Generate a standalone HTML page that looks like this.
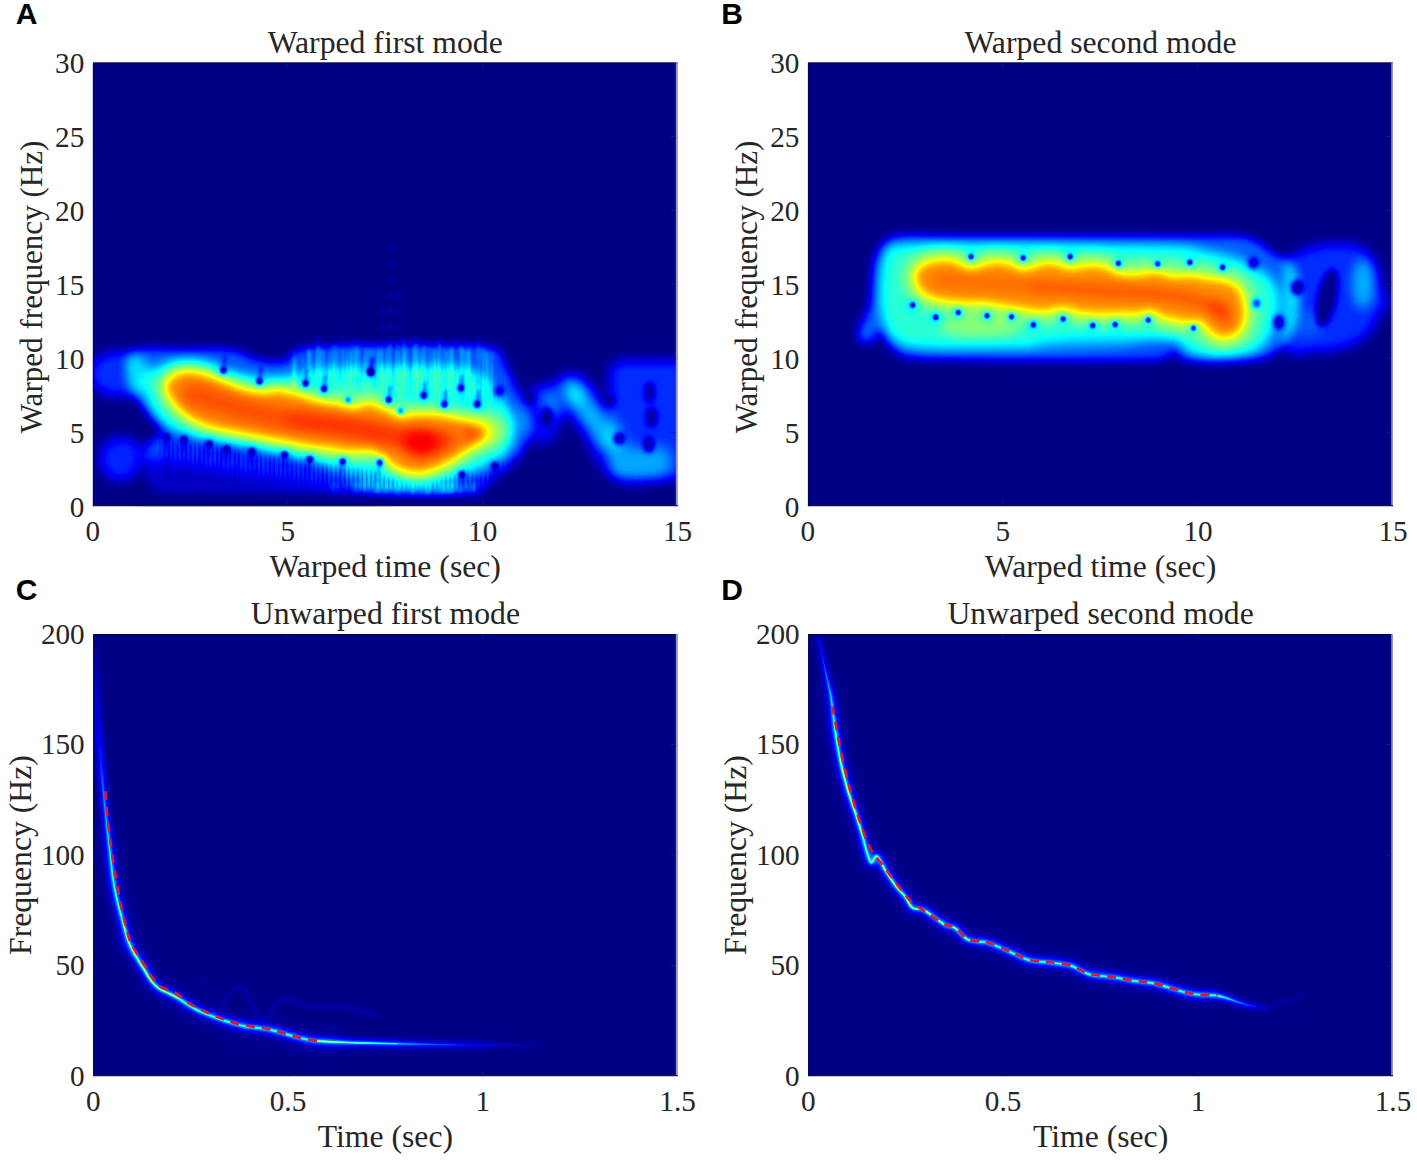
<!DOCTYPE html>
<html lang="en"><head><meta charset="utf-8"><title>Warped and unwarped modes</title>
<style>
html,body{margin:0;padding:0;background:#fff}
body{width:1417px;height:1161px;overflow:hidden;position:relative}
svg#fig{position:absolute;left:0;top:0;display:block}
svg#fig text{font-family:"Liberation Serif","Times New Roman",Times,serif;fill:#262626}
svg#fig text.ltr{font-family:"Liberation Sans",Arial,Helvetica,sans-serif;font-weight:bold;fill:#000}
</style></head>
<body>
<svg id="fig" width="1417" height="1161" viewBox="0 0 1417 1161">
<defs>
<filter id="jet" x="0" y="0" width="100%" height="100%" filterUnits="objectBoundingBox" color-interpolation-filters="sRGB">
<feComponentTransfer>
<feFuncR type="table" tableValues="0 0 0 0 0.5 1 1 1 0.5"/>
<feFuncG type="table" tableValues="0 0 0.5 1 1 1 0.5 0 0"/>
<feFuncB type="table" tableValues="0.52 1 1 1 0.5 0 0 0 0"/>
</feComponentTransfer>
</filter>
<filter id="b0_5" filterUnits="userSpaceOnUse" x="-30" y="-30" width="650" height="510" color-interpolation-filters="sRGB"><feGaussianBlur stdDeviation="0.5"/></filter>
<filter id="b0_6" filterUnits="userSpaceOnUse" x="-30" y="-30" width="650" height="510" color-interpolation-filters="sRGB"><feGaussianBlur stdDeviation="0.6"/></filter>
<filter id="b0_8" filterUnits="userSpaceOnUse" x="-30" y="-30" width="650" height="510" color-interpolation-filters="sRGB"><feGaussianBlur stdDeviation="0.8"/></filter>
<filter id="b1_3" filterUnits="userSpaceOnUse" x="-30" y="-30" width="650" height="510" color-interpolation-filters="sRGB"><feGaussianBlur stdDeviation="1.3"/></filter>
<filter id="b1_5" filterUnits="userSpaceOnUse" x="-30" y="-30" width="650" height="510" color-interpolation-filters="sRGB"><feGaussianBlur stdDeviation="1.5"/></filter>
<filter id="b2" filterUnits="userSpaceOnUse" x="-30" y="-30" width="650" height="510" color-interpolation-filters="sRGB"><feGaussianBlur stdDeviation="2"/></filter>
<filter id="b2_5" filterUnits="userSpaceOnUse" x="-30" y="-30" width="650" height="510" color-interpolation-filters="sRGB"><feGaussianBlur stdDeviation="2.5"/></filter>
<filter id="b2_8" filterUnits="userSpaceOnUse" x="-30" y="-30" width="650" height="510" color-interpolation-filters="sRGB"><feGaussianBlur stdDeviation="2.8"/></filter>
<filter id="b3" filterUnits="userSpaceOnUse" x="-30" y="-30" width="650" height="510" color-interpolation-filters="sRGB"><feGaussianBlur stdDeviation="3"/></filter>
<filter id="b4" filterUnits="userSpaceOnUse" x="-30" y="-30" width="650" height="510" color-interpolation-filters="sRGB"><feGaussianBlur stdDeviation="4"/></filter>
<filter id="b5" filterUnits="userSpaceOnUse" x="-30" y="-30" width="650" height="510" color-interpolation-filters="sRGB"><feGaussianBlur stdDeviation="5"/></filter>
<filter id="b6" filterUnits="userSpaceOnUse" x="-30" y="-30" width="650" height="510" color-interpolation-filters="sRGB"><feGaussianBlur stdDeviation="6"/></filter>
<filter id="b6_5" filterUnits="userSpaceOnUse" x="-30" y="-30" width="650" height="510" color-interpolation-filters="sRGB"><feGaussianBlur stdDeviation="6.5"/></filter>
<filter id="b7" filterUnits="userSpaceOnUse" x="-30" y="-30" width="650" height="510" color-interpolation-filters="sRGB"><feGaussianBlur stdDeviation="7"/></filter>
<filter id="b8" filterUnits="userSpaceOnUse" x="-30" y="-30" width="650" height="510" color-interpolation-filters="sRGB"><feGaussianBlur stdDeviation="8"/></filter>
</defs>

<svg x="92.8" y="62.6" width="584.8" height="443.6" viewBox="-0.2 0.6 584.8 443.6" overflow="hidden">
<g filter="url(#jet)"><rect width="584.5" height="444" fill="#000"/>
<defs><pattern id="vsA" width="4.4" height="40" patternUnits="userSpaceOnUse"><rect x="0" width="1.7" height="40" fill="#000"/></pattern><pattern id="vsA2" width="17.3" height="40" patternUnits="userSpaceOnUse"><rect x="3" width="5" height="40" fill="#000"/></pattern></defs>
<ellipse cx="27" cy="312" rx="31" ry="23" fill="#fff" fill-opacity="0.17" filter="url(#b6)"/>
<ellipse cx="29" cy="397" rx="23" ry="22" fill="#fff" fill-opacity="0.16" filter="url(#b6)"/>
<path d="M38 290C47 283.7 73 287.3 90 287C107 286.7 127.8 286.3 140 288C152.2 289.7 154.3 295.2 163 297C171.7 298.8 183.8 300.8 192 299C200.2 297.2 194 288.7 212 286C230 283.3 269.3 283.2 300 283C330.7 282.8 377.3 281.8 396 285C414.7 288.2 407.3 295.2 412 302C416.7 308.8 420.2 318 424 326C427.8 334 432.7 343.3 435 350C437.3 356.7 438.2 360.7 438 366C437.8 371.3 436.2 376.8 434 382C431.8 387.2 428.8 392.3 425 397C421.2 401.7 416.2 405.8 411 410C405.8 414.2 398.8 418.5 394 422C389.2 425.5 397.7 429.3 382 431C366.3 432.7 330.3 431.8 300 432C269.7 432.2 233.3 432.2 200 432C166.7 431.8 123 431.7 100 431C77 430.3 70 433.2 62 428C54 422.8 53 408 52 400C51 392 53 384.8 56 380C59 375.2 69 374.3 70 371C71 367.7 65.3 364.3 62 360C58.7 355.7 54.3 350.8 50 345C45.7 339.2 38 334.2 36 325C34 315.8 29 296.3 38 290Z" fill="#fff" fill-opacity="0.21" filter="url(#b5)"/>
<path d="M201.8 327v-32.3M211 327v-30.5M215.9 315v-27.6M225.1 315v-33.7M230 315v-27.2M236.6 315v-27.3M240.1 315v-33M249.3 315v-42.8M254.2 315v-33.6M257.7 315v-27.1M262.5 315v-40.2M266 315v-37.3M272.6 315v-30.3M277.5 315v-31.6M284.1 315v-31.2M287.6 315v-30.6M294.2 315v-29.8M297.7 315v-35.5M304.3 315v-36.8M310.9 315v-27M314.4 315v-29.7M321 315v-29.5M324.6 315v-39.2M328.1 315v-27.8M331.6 315v-30.8M340.8 315v-30M345.7 315v-37.3M352.3 315v-28.9M358.9 315v-28.9M368.1 315v-36.8M371.6 315v-27.3M375.2 315v-27M384.4 315v-37.8M389.2 320.5v-34.9M394.1 326.8v-30.4M398.9 333.1v-43.5M403.8 339.4v-30M238.5 421v9.4M243.3 421v6M249.9 421v14M253.4 421v7.7M262.7 421v14M266.2 421v6.3M271 421v7.7M277.6 421v6.1M284.2 421v12.6M293.5 421v6.6M297 421v7.7M301.8 421v6.1M308.4 421v9M317.7 421v7M326.9 421v12.7M331.7 421v12.9M336.6 421v11M343.2 421v13.3M348 421v11.8M352.9 421v11.9M357.7 421v11.5M366.9 421v13.1M370.5 421v9.4M374 421v6.9M380.6 421v7.9" stroke="#fff" stroke-opacity="0.06" stroke-width="2.2" fill="none" filter="url(#b1_5)"/>
<path d="M201 327v-38.5M216.1 315v-28.5M224.1 315v-41.7M229.8 315v-27.3M244.9 315v-32.3M250.7 315v-28.3M258.6 315v-36.5M264.4 315v-28.2M279.5 315v-28.1M285.3 315v-27.5M296.1 315v-31.8M304 315v-27.1M311.9 315v-40.5M322.7 315v-34.3M330.6 315v-32.9M336.4 315v-30.8M347.2 315v-35.4M352.9 315v-27M358.7 315v-31M369.5 315v-28.7M375.3 315v-27.1M386.1 316.4v-36.2M394 326.7v-37.7M239.4 421v11.5M245.2 421v13M260.3 421v13.6M266 421v12.9M271.8 421v11M286.9 421v9M292.7 421v10.9M298.4 421v6.7M304.2 421v13.9M319.3 421v11.8M334.4 421v13.5M349.6 421v9.5M355.3 421v10.1M361.1 421v8.5M366.8 421v9.8M374.8 421v13.7M380.5 421v10" stroke="#fff" stroke-opacity="0.055" stroke-width="3.6" fill="none" filter="url(#b1_5)"/>
<path d="M201 327v-27M216 315v-27.3M227 315v-31.6M242 315v-34.4M263 315v-31.2M274 315v-28.8M289 315v-27.7M310 315v-38M321 315v-40.2M342 315v-27.8M357 315v-27.7M368 315v-31.2M376 315v-35.6M391 322.8v-38.5M399 333.2v-30.5M241.7 421v12.6M262.7 421v11M283.7 421v11.4M304.7 421v8.6M312.7 421v8.2M320.7 421v11.4M335.7 421v10.6M350.7 421v11.2M358.7 421v11.1M379.7 421v9.6" stroke="#fff" stroke-opacity="0.045" stroke-width="5.0" fill="none" filter="url(#b1_5)"/>
<path d="M297 286V176M305.5 286V226M288.5 286V236" stroke="#fff" stroke-opacity="0.035" stroke-width="4" stroke-dasharray="9 7" fill="none" filter="url(#b1_5)"/>
<polygon points="46,396 120,408 200,420 262,430 300,440 300,452 46,452" fill="#000" fill-opacity="0.6" filter="url(#b7)"/>
<path d="M49.5 324C50.5 318.5 54.2 311.2 60 307C65.8 302.8 76.8 300 84.5 298.6C92.2 297.2 99.4 297.7 106 298.6C112.6 299.5 117.3 301.8 124 304C130.7 306.2 136.2 310.2 146 312C155.8 313.8 174 315 183 315C192 315 196 312.7 200 312C204 311.3 204 311.8 207 311C210 310.2 212.8 308 218 307C223.2 306 228.2 305.5 238 305C247.8 304.5 263.3 304.3 277 304C290.7 303.7 309 303.2 320 303C331 302.8 335.7 302.3 343 302.5C350.3 302.7 358 303.1 364 304C370 304.9 375 306.5 379 308C383 309.5 384.5 310.3 388 313C391.5 315.7 395.7 319 400 324C404.3 329 410.5 337.7 414 343C417.5 348.3 419.7 352.2 421 356C422.3 359.8 422.2 362.7 422 366C421.8 369.3 421.3 372 420 376C418.7 380 416.3 386.3 414 390C411.7 393.7 408.7 395.8 406 398C403.3 400.2 401.2 401.3 398 403C394.8 404.7 390.8 406.5 387 408C383.2 409.5 378.8 409.8 375 412C371.2 414.2 366.5 418.3 364 421C361.5 423.7 374.5 427 360 428C345.5 429 293.7 428.8 277 427C260.3 425.2 266.5 420.2 260 417C253.5 413.8 245.3 411 238 408C230.7 405 223.3 401.5 216 399C208.7 396.5 201.3 394.8 194 393C186.7 391.2 179.3 389.7 172 388C164.7 386.3 157.3 384.3 150 383C142.7 381.7 134.5 381 128 380C121.5 379 116.8 378.2 111 377C105.2 375.8 98.8 374.8 93 373C87.2 371.2 81 369 76 366C71 363 66.7 359.3 63 355C59.3 350.7 56.2 345.2 54 340C51.8 334.8 48.5 329.5 49.5 324Z" fill="#fff" fill-opacity="0.24" filter="url(#b6)"/>
<ellipse cx="312" cy="324" rx="80" ry="13" fill="#fff" fill-opacity="0.07" filter="url(#b8)"/>
<defs><mask id="mA" maskUnits="userSpaceOnUse" x="0" y="0" width="584.5" height="444"><rect width="584.5" height="444" fill="#000"/><path d="M66 376L110 382L200 398L300 412L385 414L428 392L425 426L70 426ZM210 292L398 292L422 330L400 346L300 334L210 312Z" fill="#fff" filter="url(#b5)"/><path d="M73.6 325C73.9 321.5 77.1 317.4 80 315C82.9 312.6 86.6 311.2 91 310.7C95.4 310.2 100.2 310.4 106.4 311.8C112.6 313.2 121 316.7 128.3 319.4C135.6 322.1 142.7 326 150 328C157.3 330 166.2 331.2 172 331.4C177.8 331.6 179.5 328.9 185 329.3C190.5 329.7 198.1 331.8 205 333.6C211.9 335.4 219.4 338.6 226.7 340.2C234 341.8 243.1 342.4 248.6 343.5C254.1 344.6 255.1 347 259.5 346.8C263.9 346.6 270.9 342.7 275 342.4C279.1 342.1 280.8 343.9 284 345C287.2 346.1 290.6 347.2 294.5 349C298.4 350.8 303.2 354.8 307.6 355.5C312 356.2 315 353.7 320.8 353.3C326.6 352.9 335.3 352.6 342.6 353.3C349.9 354 357.9 355.9 364.5 357.7C371.1 359.5 377.6 362.1 382 364.3C386.4 366.5 391.5 367.5 390.8 370.8C390.1 374.1 382.7 379.6 377.6 384C372.5 388.4 365.8 393.4 360 397C354.2 400.6 348.1 403.6 342.6 405.8C337.2 408 332.4 409.8 327.3 410.2C322.2 410.6 316.7 409.5 312 408C307.3 406.5 302.7 403.8 299 401.4C295.3 399 293.7 396 290 393.8C286.3 391.6 282.1 388.8 277 388C271.9 387.2 266.1 389.3 259.5 389C252.9 388.7 244.9 387 237.6 386C230.3 385 223.1 384.2 215.8 383C208.5 381.8 201.2 380.3 193.9 379C186.6 377.7 179.3 376.4 172 375C164.7 373.6 157.3 372.2 150 370.8C142.7 369.4 135.6 368.2 128.3 366.4C121 364.6 113 362.8 106.4 359.9C99.8 357 93.7 352.9 88.9 348.9C84.2 344.9 80.5 339.8 77.9 335.8C75.4 331.8 73.2 328.5 73.6 325Z" fill="#000" stroke="#000" stroke-width="22" stroke-linejoin="round" filter="url(#b4)"/></mask></defs>
<g mask="url(#mA)"><rect x="30" y="360" width="430" height="85" fill="#000" opacity="0.16"/><rect x="30" y="270" width="430" height="85" fill="url(#vsA)" opacity="0.05" filter="url(#b0_6)"/><rect x="30" y="355" width="430" height="90" fill="url(#vsA)" opacity="0.24" filter="url(#b0_6)"/><rect x="30" y="270" width="430" height="175" fill="url(#vsA2)" opacity="0.13" filter="url(#b2)"/></g>
<path d="M73.6 325C73.9 321.5 77.1 317.4 80 315C82.9 312.6 86.6 311.2 91 310.7C95.4 310.2 100.2 310.4 106.4 311.8C112.6 313.2 121 316.7 128.3 319.4C135.6 322.1 142.7 326 150 328C157.3 330 166.2 331.2 172 331.4C177.8 331.6 179.5 328.9 185 329.3C190.5 329.7 198.1 331.8 205 333.6C211.9 335.4 219.4 338.6 226.7 340.2C234 341.8 243.1 342.4 248.6 343.5C254.1 344.6 255.1 347 259.5 346.8C263.9 346.6 270.9 342.7 275 342.4C279.1 342.1 280.8 343.9 284 345C287.2 346.1 290.6 347.2 294.5 349C298.4 350.8 303.2 354.8 307.6 355.5C312 356.2 315 353.7 320.8 353.3C326.6 352.9 335.3 352.6 342.6 353.3C349.9 354 357.9 355.9 364.5 357.7C371.1 359.5 377.6 362.1 382 364.3C386.4 366.5 391.5 367.5 390.8 370.8C390.1 374.1 382.7 379.6 377.6 384C372.5 388.4 365.8 393.4 360 397C354.2 400.6 348.1 403.6 342.6 405.8C337.2 408 332.4 409.8 327.3 410.2C322.2 410.6 316.7 409.5 312 408C307.3 406.5 302.7 403.8 299 401.4C295.3 399 293.7 396 290 393.8C286.3 391.6 282.1 388.8 277 388C271.9 387.2 266.1 389.3 259.5 389C252.9 388.7 244.9 387 237.6 386C230.3 385 223.1 384.2 215.8 383C208.5 381.8 201.2 380.3 193.9 379C186.6 377.7 179.3 376.4 172 375C164.7 373.6 157.3 372.2 150 370.8C142.7 369.4 135.6 368.2 128.3 366.4C121 364.6 113 362.8 106.4 359.9C99.8 357 93.7 352.9 88.9 348.9C84.2 344.9 80.5 339.8 77.9 335.8C75.4 331.8 73.2 328.5 73.6 325Z" fill="#fff" stroke="#fff" stroke-width="18" stroke-linejoin="round" opacity="0.27" filter="url(#b6)"/>
<ellipse cx="392" cy="369" rx="24" ry="18" fill="#fff" fill-opacity="0.22" filter="url(#b8)"/>
<ellipse cx="130.4" cy="308.5" rx="5.5" ry="5.5" fill="#000" fill-opacity="0.2" filter="url(#b3)"/>
<ellipse cx="130.4" cy="308.5" rx="2.8" ry="3.1" fill="#000" fill-opacity="0.95" filter="url(#b1_5)"/>
<path d="M130.4 308.5L131.9 295.5" fill="none" stroke="#000" stroke-opacity="0.35" stroke-width="3.2" stroke-linecap="round" stroke-linejoin="round" filter="url(#b1_5)"/>
<ellipse cx="166.5" cy="319.4" rx="5.5" ry="5.5" fill="#000" fill-opacity="0.2" filter="url(#b3)"/>
<ellipse cx="166.5" cy="319.4" rx="2.8" ry="3.1" fill="#000" fill-opacity="0.95" filter="url(#b1_5)"/>
<path d="M166.5 319.4L168 306.4" fill="none" stroke="#000" stroke-opacity="0.35" stroke-width="3.2" stroke-linecap="round" stroke-linejoin="round" filter="url(#b1_5)"/>
<ellipse cx="212.5" cy="321.6" rx="5.5" ry="5.5" fill="#000" fill-opacity="0.2" filter="url(#b3)"/>
<ellipse cx="212.5" cy="321.6" rx="2.8" ry="3.1" fill="#000" fill-opacity="0.95" filter="url(#b1_5)"/>
<path d="M212.5 321.6L214 308.6" fill="none" stroke="#000" stroke-opacity="0.35" stroke-width="3.2" stroke-linecap="round" stroke-linejoin="round" filter="url(#b1_5)"/>
<ellipse cx="231.1" cy="327.1" rx="5.5" ry="5.5" fill="#000" fill-opacity="0.2" filter="url(#b3)"/>
<ellipse cx="231.1" cy="327.1" rx="2.8" ry="3.1" fill="#000" fill-opacity="0.95" filter="url(#b1_5)"/>
<path d="M231.1 327.1L232.6 314.1" fill="none" stroke="#000" stroke-opacity="0.35" stroke-width="3.2" stroke-linecap="round" stroke-linejoin="round" filter="url(#b1_5)"/>
<ellipse cx="278.1" cy="310.7" rx="5.5" ry="5.5" fill="#000" fill-opacity="0.2" filter="url(#b3)"/>
<ellipse cx="278.1" cy="310.7" rx="2.8" ry="3.1" fill="#000" fill-opacity="0.95" filter="url(#b1_5)"/>
<path d="M278.1 310.7L279.6 297.7" fill="none" stroke="#000" stroke-opacity="0.35" stroke-width="3.2" stroke-linecap="round" stroke-linejoin="round" filter="url(#b1_5)"/>
<ellipse cx="295.6" cy="338" rx="5.5" ry="5.5" fill="#000" fill-opacity="0.2" filter="url(#b3)"/>
<ellipse cx="295.6" cy="338" rx="2.8" ry="3.1" fill="#000" fill-opacity="0.95" filter="url(#b1_5)"/>
<path d="M295.6 338L297.1 325" fill="none" stroke="#000" stroke-opacity="0.35" stroke-width="3.2" stroke-linecap="round" stroke-linejoin="round" filter="url(#b1_5)"/>
<ellipse cx="277" cy="309.6" rx="5.5" ry="5.5" fill="#000" fill-opacity="0.2" filter="url(#b3)"/>
<ellipse cx="277" cy="309.6" rx="2.8" ry="3.1" fill="#000" fill-opacity="0.95" filter="url(#b1_5)"/>
<path d="M277 309.6L278.5 296.6" fill="none" stroke="#000" stroke-opacity="0.35" stroke-width="3.2" stroke-linecap="round" stroke-linejoin="round" filter="url(#b1_5)"/>
<ellipse cx="330.6" cy="333.6" rx="5.5" ry="5.5" fill="#000" fill-opacity="0.2" filter="url(#b3)"/>
<ellipse cx="330.6" cy="333.6" rx="2.8" ry="3.1" fill="#000" fill-opacity="0.95" filter="url(#b1_5)"/>
<path d="M330.6 333.6L332.1 320.6" fill="none" stroke="#000" stroke-opacity="0.35" stroke-width="3.2" stroke-linecap="round" stroke-linejoin="round" filter="url(#b1_5)"/>
<ellipse cx="351.4" cy="342.4" rx="5.5" ry="5.5" fill="#000" fill-opacity="0.2" filter="url(#b3)"/>
<ellipse cx="351.4" cy="342.4" rx="2.8" ry="3.1" fill="#000" fill-opacity="0.95" filter="url(#b1_5)"/>
<path d="M351.4 342.4L352.9 329.4" fill="none" stroke="#000" stroke-opacity="0.35" stroke-width="3.2" stroke-linecap="round" stroke-linejoin="round" filter="url(#b1_5)"/>
<ellipse cx="367.8" cy="326" rx="5.5" ry="5.5" fill="#000" fill-opacity="0.2" filter="url(#b3)"/>
<ellipse cx="367.8" cy="326" rx="2.8" ry="3.1" fill="#000" fill-opacity="0.95" filter="url(#b1_5)"/>
<path d="M367.8 326L369.3 313" fill="none" stroke="#000" stroke-opacity="0.35" stroke-width="3.2" stroke-linecap="round" stroke-linejoin="round" filter="url(#b1_5)"/>
<ellipse cx="384.2" cy="342.4" rx="5.5" ry="5.5" fill="#000" fill-opacity="0.2" filter="url(#b3)"/>
<ellipse cx="384.2" cy="342.4" rx="2.8" ry="3.1" fill="#000" fill-opacity="0.95" filter="url(#b1_5)"/>
<path d="M384.2 342.4L385.7 329.4" fill="none" stroke="#000" stroke-opacity="0.35" stroke-width="3.2" stroke-linecap="round" stroke-linejoin="round" filter="url(#b1_5)"/>
<ellipse cx="73.6" cy="375.2" rx="5.5" ry="5.5" fill="#000" fill-opacity="0.2" filter="url(#b3)"/>
<ellipse cx="73.6" cy="375.2" rx="2.8" ry="3.1" fill="#000" fill-opacity="0.95" filter="url(#b1_5)"/>
<path d="M73.6 375.2L72.6 386.2" fill="none" stroke="#000" stroke-opacity="0.25" stroke-width="3.2" stroke-linecap="round" stroke-linejoin="round" filter="url(#b1_5)"/>
<ellipse cx="91.1" cy="377.4" rx="5.5" ry="5.5" fill="#000" fill-opacity="0.2" filter="url(#b3)"/>
<ellipse cx="91.1" cy="377.4" rx="2.8" ry="3.1" fill="#000" fill-opacity="0.95" filter="url(#b1_5)"/>
<path d="M91.1 377.4L90.1 388.4" fill="none" stroke="#000" stroke-opacity="0.25" stroke-width="3.2" stroke-linecap="round" stroke-linejoin="round" filter="url(#b1_5)"/>
<ellipse cx="116.2" cy="381.8" rx="5.5" ry="5.5" fill="#000" fill-opacity="0.2" filter="url(#b3)"/>
<ellipse cx="116.2" cy="381.8" rx="2.8" ry="3.1" fill="#000" fill-opacity="0.95" filter="url(#b1_5)"/>
<path d="M116.2 381.8L115.2 392.8" fill="none" stroke="#000" stroke-opacity="0.25" stroke-width="3.2" stroke-linecap="round" stroke-linejoin="round" filter="url(#b1_5)"/>
<ellipse cx="133.7" cy="387.2" rx="5.5" ry="5.5" fill="#000" fill-opacity="0.2" filter="url(#b3)"/>
<ellipse cx="133.7" cy="387.2" rx="2.8" ry="3.1" fill="#000" fill-opacity="0.95" filter="url(#b1_5)"/>
<path d="M133.7 387.2L132.7 398.2" fill="none" stroke="#000" stroke-opacity="0.25" stroke-width="3.2" stroke-linecap="round" stroke-linejoin="round" filter="url(#b1_5)"/>
<ellipse cx="158.9" cy="389.4" rx="5.5" ry="5.5" fill="#000" fill-opacity="0.2" filter="url(#b3)"/>
<ellipse cx="158.9" cy="389.4" rx="2.8" ry="3.1" fill="#000" fill-opacity="0.95" filter="url(#b1_5)"/>
<path d="M158.9 389.4L157.9 400.4" fill="none" stroke="#000" stroke-opacity="0.25" stroke-width="3.2" stroke-linecap="round" stroke-linejoin="round" filter="url(#b1_5)"/>
<ellipse cx="191.7" cy="392.7" rx="5.5" ry="5.5" fill="#000" fill-opacity="0.2" filter="url(#b3)"/>
<ellipse cx="191.7" cy="392.7" rx="2.8" ry="3.1" fill="#000" fill-opacity="0.95" filter="url(#b1_5)"/>
<path d="M191.7 392.7L190.7 403.7" fill="none" stroke="#000" stroke-opacity="0.25" stroke-width="3.2" stroke-linecap="round" stroke-linejoin="round" filter="url(#b1_5)"/>
<ellipse cx="216.9" cy="397.1" rx="5.5" ry="5.5" fill="#000" fill-opacity="0.2" filter="url(#b3)"/>
<ellipse cx="216.9" cy="397.1" rx="2.8" ry="3.1" fill="#000" fill-opacity="0.95" filter="url(#b1_5)"/>
<path d="M216.9 397.1L215.9 408.1" fill="none" stroke="#000" stroke-opacity="0.25" stroke-width="3.2" stroke-linecap="round" stroke-linejoin="round" filter="url(#b1_5)"/>
<ellipse cx="249.7" cy="399.3" rx="5.5" ry="5.5" fill="#000" fill-opacity="0.2" filter="url(#b3)"/>
<ellipse cx="249.7" cy="399.3" rx="2.8" ry="3.1" fill="#000" fill-opacity="0.95" filter="url(#b1_5)"/>
<path d="M249.7 399.3L248.7 410.3" fill="none" stroke="#000" stroke-opacity="0.25" stroke-width="3.2" stroke-linecap="round" stroke-linejoin="round" filter="url(#b1_5)"/>
<ellipse cx="286.9" cy="400.4" rx="5.5" ry="5.5" fill="#000" fill-opacity="0.2" filter="url(#b3)"/>
<ellipse cx="286.9" cy="400.4" rx="2.8" ry="3.1" fill="#000" fill-opacity="0.95" filter="url(#b1_5)"/>
<path d="M286.9 400.4L285.9 411.4" fill="none" stroke="#000" stroke-opacity="0.25" stroke-width="3.2" stroke-linecap="round" stroke-linejoin="round" filter="url(#b1_5)"/>
<ellipse cx="368.9" cy="412.4" rx="5.5" ry="5.5" fill="#000" fill-opacity="0.2" filter="url(#b3)"/>
<ellipse cx="368.9" cy="412.4" rx="2.8" ry="3.1" fill="#000" fill-opacity="0.95" filter="url(#b1_5)"/>
<path d="M368.9 412.4L367.9 423.4" fill="none" stroke="#000" stroke-opacity="0.25" stroke-width="3.2" stroke-linecap="round" stroke-linejoin="round" filter="url(#b1_5)"/>
<ellipse cx="401.7" cy="403.6" rx="5.5" ry="5.5" fill="#000" fill-opacity="0.2" filter="url(#b3)"/>
<ellipse cx="401.7" cy="403.6" rx="2.8" ry="3.1" fill="#000" fill-opacity="0.95" filter="url(#b1_5)"/>
<path d="M401.7 403.6L400.7 414.6" fill="none" stroke="#000" stroke-opacity="0.25" stroke-width="3.2" stroke-linecap="round" stroke-linejoin="round" filter="url(#b1_5)"/>
<path d="M73.6 325C73.9 321.5 77.1 317.4 80 315C82.9 312.6 86.6 311.2 91 310.7C95.4 310.2 100.2 310.4 106.4 311.8C112.6 313.2 121 316.7 128.3 319.4C135.6 322.1 142.7 326 150 328C157.3 330 166.2 331.2 172 331.4C177.8 331.6 179.5 328.9 185 329.3C190.5 329.7 198.1 331.8 205 333.6C211.9 335.4 219.4 338.6 226.7 340.2C234 341.8 243.1 342.4 248.6 343.5C254.1 344.6 255.1 347 259.5 346.8C263.9 346.6 270.9 342.7 275 342.4C279.1 342.1 280.8 343.9 284 345C287.2 346.1 290.6 347.2 294.5 349C298.4 350.8 303.2 354.8 307.6 355.5C312 356.2 315 353.7 320.8 353.3C326.6 352.9 335.3 352.6 342.6 353.3C349.9 354 357.9 355.9 364.5 357.7C371.1 359.5 377.6 362.1 382 364.3C386.4 366.5 391.5 367.5 390.8 370.8C390.1 374.1 382.7 379.6 377.6 384C372.5 388.4 365.8 393.4 360 397C354.2 400.6 348.1 403.6 342.6 405.8C337.2 408 332.4 409.8 327.3 410.2C322.2 410.6 316.7 409.5 312 408C307.3 406.5 302.7 403.8 299 401.4C295.3 399 293.7 396 290 393.8C286.3 391.6 282.1 388.8 277 388C271.9 387.2 266.1 389.3 259.5 389C252.9 388.7 244.9 387 237.6 386C230.3 385 223.1 384.2 215.8 383C208.5 381.8 201.2 380.3 193.9 379C186.6 377.7 179.3 376.4 172 375C164.7 373.6 157.3 372.2 150 370.8C142.7 369.4 135.6 368.2 128.3 366.4C121 364.6 113 362.8 106.4 359.9C99.8 357 93.7 352.9 88.9 348.9C84.2 344.9 80.5 339.8 77.9 335.8C75.4 331.8 73.2 328.5 73.6 325Z" fill="#fff" fill-opacity="0.42" filter="url(#b4)"/>
<ellipse cx="255.1" cy="338" rx="3" ry="3.4" fill="#000" fill-opacity="0.55" filter="url(#b1_5)"/>
<ellipse cx="307.6" cy="349" rx="3" ry="3.4" fill="#000" fill-opacity="0.55" filter="url(#b1_5)"/>
<path d="M100 332C112 335.5 145.3 347.3 172 353C198.7 358.7 238.7 362.5 260 366C281.3 369.5 288.3 371.7 300 374C311.7 376.3 321.3 379.3 330 380C338.7 380.7 348.3 378.3 352 378" fill="none" stroke="#fff" stroke-opacity="0.21" stroke-width="22" stroke-linecap="round" stroke-linejoin="round" filter="url(#b6)"/>
<path d="M200 358C210 359.3 243.3 363.3 260 366C276.7 368.7 288.3 371.7 300 374C311.7 376.3 321.7 379.3 330 380C338.3 380.7 346.7 378.3 350 378" fill="none" stroke="#fff" stroke-opacity="0.17" stroke-width="16" stroke-linecap="round" stroke-linejoin="round" filter="url(#b7)"/>
<ellipse cx="328" cy="381" rx="17" ry="15" fill="#fff" fill-opacity="0.4" filter="url(#b7)"/>
<rect x="516" y="298" width="80" height="120" rx="14" fill="#fff" fill-opacity="0.17" filter="url(#b6)"/>
<ellipse cx="449" cy="352" rx="20" ry="30" fill="#fff" fill-opacity="0.12" filter="url(#b6)"/>
<path d="M464 338C467 336.8 476.8 329.2 482 331C487.2 332.8 491 343.5 495 349C499 354.5 502.7 358.3 506 364C509.3 369.7 511.8 377.3 515 383C518.2 388.7 520.7 394.7 525 398C529.3 401.3 534.8 402.7 541 403C547.2 403.3 558.5 400.5 562 400" fill="none" stroke="#fff" stroke-opacity="0.15" stroke-width="34" stroke-linecap="round" stroke-linejoin="round" filter="url(#b7)"/>
<path d="M478 325C479 326.3 481.2 328.8 484 333C486.8 337.2 491.3 344.8 495 350C498.7 355.2 503 359.3 506 364C509 368.7 511.8 375.7 513 378" fill="none" stroke="#fff" stroke-opacity="0.19" stroke-width="22" stroke-linecap="round" stroke-linejoin="round" filter="url(#b6_5)"/>
<ellipse cx="482" cy="334" rx="9" ry="10" fill="#fff" fill-opacity="0.08" filter="url(#b5)"/>
<ellipse cx="516.6" cy="338.6" rx="5" ry="5.5" fill="#000" fill-opacity="0.85" filter="url(#b2_5)"/>
<ellipse cx="526.2" cy="376.5" rx="5.5" ry="6" fill="#000" fill-opacity="0.9" filter="url(#b2_5)"/>
<ellipse cx="556.5" cy="330.4" rx="5" ry="10" fill="#000" fill-opacity="0.85" filter="url(#b2_5)"/>
<ellipse cx="558.6" cy="355.2" rx="5.5" ry="10" fill="#000" fill-opacity="0.85" filter="url(#b2_5)"/>
<ellipse cx="555.8" cy="382.7" rx="5.5" ry="8" fill="#000" fill-opacity="0.85" filter="url(#b2_5)"/>
<ellipse cx="454" cy="355.2" rx="5.5" ry="9.5" fill="#000" fill-opacity="0.9" filter="url(#b2_5)"/>
<ellipse cx="436.6" cy="336" rx="5" ry="6" fill="#000" fill-opacity="0.85" filter="url(#b2_5)"/>
<ellipse cx="406" cy="329" rx="5" ry="5" fill="#000" fill-opacity="0.75" filter="url(#b2_5)"/>
</g>

</svg>
<svg x="807.9" y="62.6" width="585.1" height="443.6" viewBox="-0.1 0.6 585.1 443.6" overflow="hidden">
<g filter="url(#jet)"><rect width="585" height="444" fill="#000"/>
<path d="M84 175C96.3 170.7 120.7 174.2 140 174C159.3 173.8 173.3 174 200 174C226.7 174 266.7 174 300 174C333.3 174 377.5 173.9 400 174C422.5 174.1 426.3 173.3 435 174.5C443.7 175.7 446.5 177.9 452 181C457.5 184.1 462.7 189.8 468 193C473.3 196.2 480 193.8 484 200C488 206.2 491.3 219.7 492 230C492.7 240.3 490.7 253 488 262C485.3 271 482 278.2 476 284C470 289.8 464.7 294.3 452 297C439.3 299.7 413 300 400 300C387 300 379.8 299 374 297C368.2 295 368.2 288 365 288C361.8 288 365.8 295.2 355 297C344.2 298.8 325.8 298.3 300 298.5C274.2 298.7 230 298.2 200 298C170 297.8 137.8 297.8 120 297C102.2 296.2 99.8 295.7 93 293C86.2 290.3 82.7 285 79 281C75.3 277 73.7 269 71 269C68.3 269 66.5 279.7 63 281C59.5 282.3 51.8 279.8 50 277C48.2 274.2 50 270.2 52 264C54 257.8 59.7 250.7 62 240C64.3 229.3 62.3 210.8 66 200C69.7 189.2 71.7 179.3 84 175Z" fill="#fff" fill-opacity="0.22" filter="url(#b5)"/>
<path d="M478 205C481.7 188.5 491.3 190 500 186C508.7 182 520.7 181 530 181C539.3 181 549.3 182 556 186C562.7 190 567 198 570 205C573 212 572.3 222.2 574 228C575.7 233.8 580.3 236 580 240C579.7 244 575 247 572 252C569 257 567.3 264.5 562 270C556.7 275.5 549.5 281.7 540 285C530.5 288.3 515.3 290 505 290C494.7 290 482.5 299.2 478 285C473.5 270.8 474.3 221.5 478 205Z" fill="#fff" fill-opacity="0.17" filter="url(#b6)"/>
<ellipse cx="555" cy="222" rx="11" ry="25" fill="#fff" fill-opacity="0.16" filter="url(#b6)"/>
<ellipse cx="500" cy="262" rx="14" ry="14" fill="#fff" fill-opacity="0.06" filter="url(#b6)"/>
<path d="M73 214C73.8 206.2 73.5 198.2 77 193C80.5 187.8 73.5 184.9 94 183C114.5 181.1 165.3 181.5 200 181.5C234.7 181.5 273 182.5 302 183C331 183.5 358.7 183.7 374 184.6C389.3 185.5 387.2 187.3 394 188.7C400.8 190.1 408.2 191.3 415 193C421.8 194.7 430.3 197 435 199C439.7 201 439.2 202.8 443 205C446.8 207.2 453.8 208.5 458 212C462.2 215.5 466 220.7 468 226C470 231.3 470.3 237.7 470 244C469.7 250.3 468 258 466 264C464 270 462 275.5 458 280C454 284.5 451 288.5 442 291C433 293.5 414.3 295.3 404 295C393.7 294.7 385.8 291.3 380 289C374.2 286.7 375.7 282.3 369.5 281C363.3 279.7 354.2 280.3 343 281C331.8 281.7 325.8 284.2 302 285C278.2 285.8 230.3 285.8 200 286C169.7 286.2 138 286.8 120 286C102 285.2 99 284.3 92 281C85 277.7 81.3 272.8 78 266C74.7 259.2 72.8 248.7 72 240C71.2 231.3 72.2 221.8 73 214Z" fill="#fff" fill-opacity="0.25" filter="url(#b6)"/>
<path d="M107.7 215.3C107.7 211 110.2 206.7 113.9 204C117.7 201.3 124.7 199.6 130.2 198.9C135.6 198.2 141.1 198.6 146.6 200C152.1 201.4 156.8 206.9 163 207.1C169.2 207.3 177.4 201.8 183.5 201C189.6 200.2 194.5 200.8 199.8 202C205.1 203.2 209 208.1 215.2 208.1C221.3 208.1 231.1 202.8 236.7 202C242.3 201.2 244.8 202.2 249 203C253.2 203.8 256.8 206.9 262.2 207.1C267.6 207.3 275.7 204.2 281.7 204C287.7 203.8 293.2 204.7 298 206.1C302.8 207.5 304.9 211 310.3 212.2C315.8 213.4 324.2 213.6 330.7 213.3C337.1 213 343.6 209.9 349 210.2C354.4 210.5 357.9 214.6 363.4 215.3C368.9 216 376 214 381.8 214.3C387.6 214.7 392.7 216.6 398.2 217.4C403.7 218.2 409.5 218.1 414.6 219.4C419.7 220.8 425.5 222.1 428.9 225.5C432.3 228.9 433.8 234.8 435 239.9C436.2 245 436.7 251.4 436 256.2C435.3 261 433.6 265.4 431 268.5C428.4 271.6 424.5 273.8 420.7 274.7C416.9 275.6 412.1 275.3 408.4 273.6C404.6 271.9 400.9 266.9 398.2 264.4C395.5 261.8 394 259 392 258.3C390 257.6 389.1 260.3 386 260.3C382.9 260.3 378.7 259.3 373.6 258.3C368.5 257.3 360.3 255.9 355.2 254.2C350.1 252.5 347.4 248.5 343 248C338.6 247.5 333.4 250.7 328.6 251.1C323.8 251.5 318 250.5 314.3 250.5C310.6 250.5 310.6 251 306.2 251.1C301.8 251.2 293.9 251.4 287.8 251.1C281.7 250.8 274.8 250.1 269.4 249.1C263.9 248.1 259.9 245.2 255.1 245C250.3 244.8 245.6 247.5 240.8 248C236 248.5 233.9 248.8 226.4 248C218.9 247.2 204.2 244.3 195.7 243C187.2 241.7 182.1 240.4 175.3 239.9C168.5 239.4 162.3 240.4 154.8 239.9C147.3 239.4 137 238.5 130.2 236.8C123.4 235.1 117.7 233.2 113.9 229.6C110.2 226 107.7 219.6 107.7 215.3Z" fill="#fff" stroke="#fff" stroke-width="21" stroke-linejoin="round" opacity="0.26" filter="url(#b7)"/>
<ellipse cx="172" cy="264" rx="42" ry="11" fill="#fff" fill-opacity="0.16" filter="url(#b6)"/>
<ellipse cx="300" cy="283" rx="75" ry="9" fill="#000" fill-opacity="0.2" filter="url(#b6)"/>
<ellipse cx="163" cy="194.8" rx="5.5" ry="5.5" fill="#000" fill-opacity="0.22" filter="url(#b3)"/>
<ellipse cx="163" cy="194.8" rx="2.4" ry="2.7" fill="#000" fill-opacity="0.95" filter="url(#b1_3)"/>
<ellipse cx="215.2" cy="195.9" rx="5.5" ry="5.5" fill="#000" fill-opacity="0.22" filter="url(#b3)"/>
<ellipse cx="215.2" cy="195.9" rx="2.4" ry="2.7" fill="#000" fill-opacity="0.95" filter="url(#b1_3)"/>
<ellipse cx="262.2" cy="194.8" rx="5.5" ry="5.5" fill="#000" fill-opacity="0.22" filter="url(#b3)"/>
<ellipse cx="262.2" cy="194.8" rx="2.4" ry="2.7" fill="#000" fill-opacity="0.95" filter="url(#b1_3)"/>
<ellipse cx="310.4" cy="201.4" rx="5.5" ry="5.5" fill="#000" fill-opacity="0.22" filter="url(#b3)"/>
<ellipse cx="310.4" cy="201.4" rx="2.4" ry="2.7" fill="#000" fill-opacity="0.95" filter="url(#b1_3)"/>
<ellipse cx="349.7" cy="202" rx="5.5" ry="5.5" fill="#000" fill-opacity="0.22" filter="url(#b3)"/>
<ellipse cx="349.7" cy="202" rx="2.4" ry="2.7" fill="#000" fill-opacity="0.95" filter="url(#b1_3)"/>
<ellipse cx="381.8" cy="200.4" rx="5.5" ry="5.5" fill="#000" fill-opacity="0.22" filter="url(#b3)"/>
<ellipse cx="381.8" cy="200.4" rx="2.4" ry="2.7" fill="#000" fill-opacity="0.95" filter="url(#b1_3)"/>
<ellipse cx="414.6" cy="205.5" rx="5.5" ry="5.5" fill="#000" fill-opacity="0.22" filter="url(#b3)"/>
<ellipse cx="414.6" cy="205.5" rx="2.4" ry="2.7" fill="#000" fill-opacity="0.95" filter="url(#b1_3)"/>
<ellipse cx="104.7" cy="242.9" rx="5.5" ry="5.5" fill="#000" fill-opacity="0.22" filter="url(#b3)"/>
<ellipse cx="104.7" cy="242.9" rx="2.4" ry="2.7" fill="#000" fill-opacity="0.95" filter="url(#b1_3)"/>
<ellipse cx="127.8" cy="255.2" rx="5.5" ry="5.5" fill="#000" fill-opacity="0.22" filter="url(#b3)"/>
<ellipse cx="127.8" cy="255.2" rx="2.4" ry="2.7" fill="#000" fill-opacity="0.95" filter="url(#b1_3)"/>
<ellipse cx="150.3" cy="250.5" rx="5.5" ry="5.5" fill="#000" fill-opacity="0.22" filter="url(#b3)"/>
<ellipse cx="150.3" cy="250.5" rx="2.4" ry="2.7" fill="#000" fill-opacity="0.95" filter="url(#b1_3)"/>
<ellipse cx="179" cy="253.8" rx="5.5" ry="5.5" fill="#000" fill-opacity="0.22" filter="url(#b3)"/>
<ellipse cx="179" cy="253.8" rx="2.4" ry="2.7" fill="#000" fill-opacity="0.95" filter="url(#b1_3)"/>
<ellipse cx="203.5" cy="254.8" rx="5.5" ry="5.5" fill="#000" fill-opacity="0.22" filter="url(#b3)"/>
<ellipse cx="203.5" cy="254.8" rx="2.4" ry="2.7" fill="#000" fill-opacity="0.95" filter="url(#b1_3)"/>
<ellipse cx="225.4" cy="262.8" rx="5.5" ry="5.5" fill="#000" fill-opacity="0.22" filter="url(#b3)"/>
<ellipse cx="225.4" cy="262.8" rx="2.4" ry="2.7" fill="#000" fill-opacity="0.95" filter="url(#b1_3)"/>
<ellipse cx="255.1" cy="256.9" rx="5.5" ry="5.5" fill="#000" fill-opacity="0.22" filter="url(#b3)"/>
<ellipse cx="255.1" cy="256.9" rx="2.4" ry="2.7" fill="#000" fill-opacity="0.95" filter="url(#b1_3)"/>
<ellipse cx="284.8" cy="263.4" rx="5.5" ry="5.5" fill="#000" fill-opacity="0.22" filter="url(#b3)"/>
<ellipse cx="284.8" cy="263.4" rx="2.4" ry="2.7" fill="#000" fill-opacity="0.95" filter="url(#b1_3)"/>
<ellipse cx="307.2" cy="262.4" rx="5.5" ry="5.5" fill="#000" fill-opacity="0.22" filter="url(#b3)"/>
<ellipse cx="307.2" cy="262.4" rx="2.4" ry="2.7" fill="#000" fill-opacity="0.95" filter="url(#b1_3)"/>
<ellipse cx="340.3" cy="257.9" rx="5.5" ry="5.5" fill="#000" fill-opacity="0.22" filter="url(#b3)"/>
<ellipse cx="340.3" cy="257.9" rx="2.4" ry="2.7" fill="#000" fill-opacity="0.95" filter="url(#b1_3)"/>
<ellipse cx="385.5" cy="266" rx="5.5" ry="5.5" fill="#000" fill-opacity="0.22" filter="url(#b3)"/>
<ellipse cx="385.5" cy="266" rx="2.4" ry="2.7" fill="#000" fill-opacity="0.95" filter="url(#b1_3)"/>
<path d="M107.7 215.3C107.7 211 110.2 206.7 113.9 204C117.7 201.3 124.7 199.6 130.2 198.9C135.6 198.2 141.1 198.6 146.6 200C152.1 201.4 156.8 206.9 163 207.1C169.2 207.3 177.4 201.8 183.5 201C189.6 200.2 194.5 200.8 199.8 202C205.1 203.2 209 208.1 215.2 208.1C221.3 208.1 231.1 202.8 236.7 202C242.3 201.2 244.8 202.2 249 203C253.2 203.8 256.8 206.9 262.2 207.1C267.6 207.3 275.7 204.2 281.7 204C287.7 203.8 293.2 204.7 298 206.1C302.8 207.5 304.9 211 310.3 212.2C315.8 213.4 324.2 213.6 330.7 213.3C337.1 213 343.6 209.9 349 210.2C354.4 210.5 357.9 214.6 363.4 215.3C368.9 216 376 214 381.8 214.3C387.6 214.7 392.7 216.6 398.2 217.4C403.7 218.2 409.5 218.1 414.6 219.4C419.7 220.8 425.5 222.1 428.9 225.5C432.3 228.9 433.8 234.8 435 239.9C436.2 245 436.7 251.4 436 256.2C435.3 261 433.6 265.4 431 268.5C428.4 271.6 424.5 273.8 420.7 274.7C416.9 275.6 412.1 275.3 408.4 273.6C404.6 271.9 400.9 266.9 398.2 264.4C395.5 261.8 394 259 392 258.3C390 257.6 389.1 260.3 386 260.3C382.9 260.3 378.7 259.3 373.6 258.3C368.5 257.3 360.3 255.9 355.2 254.2C350.1 252.5 347.4 248.5 343 248C338.6 247.5 333.4 250.7 328.6 251.1C323.8 251.5 318 250.5 314.3 250.5C310.6 250.5 310.6 251 306.2 251.1C301.8 251.2 293.9 251.4 287.8 251.1C281.7 250.8 274.8 250.1 269.4 249.1C263.9 248.1 259.9 245.2 255.1 245C250.3 244.8 245.6 247.5 240.8 248C236 248.5 233.9 248.8 226.4 248C218.9 247.2 204.2 244.3 195.7 243C187.2 241.7 182.1 240.4 175.3 239.9C168.5 239.4 162.3 240.4 154.8 239.9C147.3 239.4 137 238.5 130.2 236.8C123.4 235.1 117.7 233.2 113.9 229.6C110.2 226 107.7 219.6 107.7 215.3Z" fill="#fff" fill-opacity="0.4" filter="url(#b5)"/>
<path d="M130 218C138.3 218.5 162.2 219.8 180 221C197.8 222.2 216.7 223.7 237 225C257.3 226.3 281 227.6 302 229C323 230.4 347.7 231.7 363 233.5C378.3 235.3 385.8 237.6 394 240C402.2 242.4 407.8 244.8 412 248C416.2 251.2 417.8 257.2 419 259" fill="none" stroke="#fff" stroke-opacity="0.13" stroke-width="15" stroke-linecap="round" stroke-linejoin="round" filter="url(#b6)"/>
<path d="M225 225C237.8 225.7 279 227.6 302 229C325 230.4 347.7 231.7 363 233.5C378.3 235.3 385.8 237.6 394 240C402.2 242.4 408 245.2 412 248C416 250.8 417 255.5 418 257" fill="none" stroke="#fff" stroke-opacity="0.1" stroke-width="11" stroke-linecap="round" stroke-linejoin="round" filter="url(#b6)"/>
<ellipse cx="411" cy="247" rx="12" ry="10" fill="#fff" fill-opacity="0.16" filter="url(#b6)"/>
<ellipse cx="445.3" cy="201" rx="5" ry="5.5" fill="#000" fill-opacity="0.8" filter="url(#b2_5)"/>
<ellipse cx="448.3" cy="241.5" rx="3.6" ry="4.4" fill="#000" fill-opacity="0.85" filter="url(#b2_5)"/>
<ellipse cx="470.9" cy="260.3" rx="5" ry="7" fill="#000" fill-opacity="0.9" filter="url(#b2_5)"/>
<ellipse cx="489.3" cy="225.5" rx="6" ry="7.5" fill="#000" fill-opacity="0.9" filter="url(#b2_5)"/>
<ellipse cx="519" cy="236" rx="9.5" ry="29" fill="#000" fill-opacity="0.95" filter="url(#b2_5)" transform="rotate(12 519 236)"/>
</g>

</svg>
<svg x="93.2" y="634" width="584.4" height="442.2" viewBox="0.2 0 584.4 442.2" overflow="hidden">
<g filter="url(#jet)"><rect width="584.5" height="442" fill="#000"/>
<defs><linearGradient id="gvC" x1="0" y1="0" x2="0" y2="1"><stop offset="0" stop-color="#fff" stop-opacity="0.05"/><stop offset="0.1" stop-color="#fff" stop-opacity="0.3"/><stop offset="0.3" stop-color="#fff" stop-opacity="0.7"/><stop offset="0.55" stop-color="#fff" stop-opacity="0.9"/><stop offset="0.68" stop-color="#fff" stop-opacity="1"/><stop offset="1" stop-color="#fff" stop-opacity="1"/></linearGradient><linearGradient id="ghC" x1="0" y1="0" x2="1" y2="0"><stop offset="0" stop-color="#fff" stop-opacity="1"/><stop offset="0.41" stop-color="#fff" stop-opacity="1"/><stop offset="0.47" stop-color="#fff" stop-opacity="0.85"/><stop offset="0.55" stop-color="#fff" stop-opacity="0.6"/><stop offset="0.64" stop-color="#fff" stop-opacity="0.32"/><stop offset="0.72" stop-color="#fff" stop-opacity="0.12"/><stop offset="0.78" stop-color="#fff" stop-opacity="0"/></linearGradient><mask id="mvC" maskUnits="userSpaceOnUse" x="0" y="0" width="584.5" height="442"><rect width="584.5" height="442" fill="url(#gvC)"/></mask><mask id="mhC" maskUnits="userSpaceOnUse" x="0" y="0" width="584.5" height="442"><rect width="584.5" height="442" fill="url(#ghC)"/></mask><linearGradient id="gwC" x1="0" y1="0" x2="0" y2="1"><stop offset="0" stop-color="#fff" stop-opacity="0"/><stop offset="0.2" stop-color="#fff" stop-opacity="0.02"/><stop offset="0.3" stop-color="#fff" stop-opacity="0.2"/><stop offset="0.4" stop-color="#fff" stop-opacity="0.55"/><stop offset="0.52" stop-color="#fff" stop-opacity="0.85"/><stop offset="0.65" stop-color="#fff" stop-opacity="1"/><stop offset="1" stop-color="#fff" stop-opacity="1"/></linearGradient><mask id="mwC" maskUnits="userSpaceOnUse" x="0" y="0" width="584.5" height="442"><rect width="584.5" height="442" fill="url(#gwC)"/></mask></defs>
<g mask="url(#mhC)"><g mask="url(#mvC)"><path d="M1.2 12C1.4 15.8 1.8 26.7 2.2 35C2.6 43.3 3 51.2 3.6 62C4.2 72.8 4.8 85.9 5.8 100C6.8 114.1 8.1 132 9.4 146.7C10.7 161.4 12.1 174.9 13.5 188C14.9 201.1 16.6 215.3 17.7 225C18.8 234.7 19.1 239.1 20.2 246C21.3 252.9 22.4 259 24.1 266.2C25.8 273.4 28.4 282.4 30.3 289.4C32.2 296.4 33.6 302.6 35.7 308C37.8 313.4 40.2 317.6 42.7 322C45.2 326.4 47.8 330.3 50.4 334.4C53 338.5 55.6 343.4 58.2 346.8C60.8 350.2 63.1 352.4 65.9 354.5C68.7 356.6 72.1 357.6 75.2 359.2C78.3 360.8 81.4 362 84.5 363.8C87.6 365.6 90.7 368.1 93.8 370C96.9 371.9 99.5 373.7 103.1 375.5C106.7 377.3 111.4 379.2 115.5 380.9C119.6 382.6 123.8 384.1 127.9 385.5C132 386.9 136.2 388.2 140.3 389.4C144.4 390.6 148.2 391.7 152.7 392.5C157.1 393.3 162.8 393.6 167 394.2C171.2 394.8 174.1 395.1 178 396C181.9 396.9 185.9 398.1 190.4 399.4C194.9 400.7 200.3 402.4 205.2 403.6C210.1 404.8 216.3 405.9 220 406.5C223.7 407.1 222.4 407 227.4 407.3C232.4 407.6 243 408.1 250 408.4C257 408.7 260.4 408.8 269.4 409C278.4 409.2 290 409.4 304 409.7C318 410 336.9 410.4 353.4 410.7C369.9 410.9 385 411 402.8 411.2C420.6 411.4 450.5 411.6 460 411.7" fill="none" stroke="#fff" stroke-opacity="0.2" stroke-width="8" stroke-linecap="butt" stroke-linejoin="round" filter="url(#b2_8)"/>
<path d="M13.5 188C14.2 194.2 16.6 215.3 17.7 225C18.8 234.7 19.1 239.1 20.2 246C21.3 252.9 22.4 259 24.1 266.2C25.8 273.4 28.4 282.4 30.3 289.4C32.2 296.4 33.6 302.6 35.7 308C37.8 313.4 40.2 317.6 42.7 322C45.2 326.4 47.8 330.3 50.4 334.4C53 338.5 55.6 343.4 58.2 346.8C60.8 350.2 63.1 352.4 65.9 354.5C68.7 356.6 72.1 357.6 75.2 359.2C78.3 360.8 81.4 362 84.5 363.8C87.6 365.6 90.7 368.1 93.8 370C96.9 371.9 99.5 373.7 103.1 375.5C106.7 377.3 111.4 379.2 115.5 380.9C119.6 382.6 123.8 384.1 127.9 385.5C132 386.9 136.2 388.2 140.3 389.4C144.4 390.6 148.2 391.7 152.7 392.5C157.1 393.3 162.8 393.6 167 394.2C171.2 394.8 174.1 395.1 178 396C181.9 396.9 185.9 398.1 190.4 399.4C194.9 400.7 200.3 402.4 205.2 403.6C210.1 404.8 216.3 405.9 220 406.5C223.7 407.1 222.4 407 227.4 407.3C232.4 407.6 246.2 408.2 250 408.4" fill="none" stroke="#fff" stroke-opacity="0.045" stroke-width="19" stroke-linecap="butt" stroke-linejoin="round" filter="url(#b6)"/></g><g mask="url(#mwC)"><path d="M1.2 12C1.4 15.8 1.8 26.7 2.2 35C2.6 43.3 3 51.2 3.6 62C4.2 72.8 4.8 85.9 5.8 100C6.8 114.1 8.1 132 9.4 146.7C10.7 161.4 12.1 174.9 13.5 188C14.9 201.1 16.6 215.3 17.7 225C18.8 234.7 19.1 239.1 20.2 246C21.3 252.9 22.4 259 24.1 266.2C25.8 273.4 28.4 282.4 30.3 289.4C32.2 296.4 33.6 302.6 35.7 308C37.8 313.4 40.2 317.6 42.7 322C45.2 326.4 47.8 330.3 50.4 334.4C53 338.5 55.6 343.4 58.2 346.8C60.8 350.2 63.1 352.4 65.9 354.5C68.7 356.6 72.1 357.6 75.2 359.2C78.3 360.8 81.4 362 84.5 363.8C87.6 365.6 90.7 368.1 93.8 370C96.9 371.9 99.5 373.7 103.1 375.5C106.7 377.3 111.4 379.2 115.5 380.9C119.6 382.6 123.8 384.1 127.9 385.5C132 386.9 136.2 388.2 140.3 389.4C144.4 390.6 148.2 391.7 152.7 392.5C157.1 393.3 162.8 393.6 167 394.2C171.2 394.8 174.1 395.1 178 396C181.9 396.9 185.9 398.1 190.4 399.4C194.9 400.7 200.3 402.4 205.2 403.6C210.1 404.8 216.3 405.9 220 406.5C223.7 407.1 222.4 407 227.4 407.3C232.4 407.6 243 408.1 250 408.4C257 408.7 260.4 408.8 269.4 409C278.4 409.2 290 409.4 304 409.7C318 410 336.9 410.4 353.4 410.7C369.9 410.9 385 411 402.8 411.2C420.6 411.4 450.5 411.6 460 411.7" fill="none" stroke="#fff" stroke-opacity="0.25" stroke-width="2.0" stroke-linecap="butt" stroke-linejoin="round" filter="url(#b0_8)"/>
<path d="M1.2 12C1.4 15.8 1.8 26.7 2.2 35C2.6 43.3 3 51.2 3.6 62C4.2 72.8 4.8 85.9 5.8 100C6.8 114.1 8.1 132 9.4 146.7C10.7 161.4 12.1 174.9 13.5 188C14.9 201.1 16.6 215.3 17.7 225C18.8 234.7 19.1 239.1 20.2 246C21.3 252.9 22.4 259 24.1 266.2C25.8 273.4 28.4 282.4 30.3 289.4C32.2 296.4 33.6 302.6 35.7 308C37.8 313.4 40.2 317.6 42.7 322C45.2 326.4 47.8 330.3 50.4 334.4C53 338.5 55.6 343.4 58.2 346.8C60.8 350.2 63.1 352.4 65.9 354.5C68.7 356.6 72.1 357.6 75.2 359.2C78.3 360.8 81.4 362 84.5 363.8C87.6 365.6 90.7 368.1 93.8 370C96.9 371.9 99.5 373.7 103.1 375.5C106.7 377.3 111.4 379.2 115.5 380.9C119.6 382.6 123.8 384.1 127.9 385.5C132 386.9 136.2 388.2 140.3 389.4C144.4 390.6 148.2 391.7 152.7 392.5C157.1 393.3 162.8 393.6 167 394.2C171.2 394.8 174.1 395.1 178 396C181.9 396.9 185.9 398.1 190.4 399.4C194.9 400.7 200.3 402.4 205.2 403.6C210.1 404.8 216.3 405.9 220 406.5C223.7 407.1 222.4 407 227.4 407.3C232.4 407.6 243 408.1 250 408.4C257 408.7 260.4 408.8 269.4 409C278.4 409.2 290 409.4 304 409.7C318 410 336.9 410.4 353.4 410.7C369.9 410.9 385 411 402.8 411.2C420.6 411.4 450.5 411.6 460 411.7" fill="none" stroke="#fff" stroke-opacity="0.2" stroke-width="1.4" stroke-linecap="butt" stroke-linejoin="round" filter="url(#b0_5)"/>
<path d="M30.3 289.4C31.2 292.5 33.6 302.6 35.7 308C37.8 313.4 40.2 317.6 42.7 322C45.2 326.4 47.8 330.3 50.4 334.4C53 338.5 55.6 343.4 58.2 346.8C60.8 350.2 63.1 352.4 65.9 354.5C68.7 356.6 72.1 357.6 75.2 359.2C78.3 360.8 83 363 84.5 363.8" fill="none" stroke="#fff" stroke-opacity="0.22" stroke-width="1.3" stroke-linecap="butt" stroke-linejoin="round" filter="url(#b0_5)"/>
<path d="M220 406.5C221.2 406.6 222.4 407 227.4 407.3C232.4 407.6 243 408.1 250 408.4C257 408.7 260.4 408.8 269.4 409C278.4 409.2 298.2 409.6 304 409.7" fill="none" stroke="#fff" stroke-opacity="0.22" stroke-width="1.4" stroke-linecap="butt" stroke-linejoin="round" filter="url(#b0_5)"/></g></g>
<path d="M128 372C129.7 369.5 134.7 360.2 138 357C141.3 353.8 145 352.2 148 353C151 353.8 153.5 357.5 156 362C158.5 366.5 160.3 376 163 380C165.7 384 168.8 387.3 172 386C175.2 384.7 178.5 375.5 182 372C185.5 368.5 189.2 365.7 193 365C196.8 364.3 201 366.7 205 368C209 369.3 212.8 372.3 217 373C221.2 373.7 225.8 372 230 372C234.2 372 237.7 372.7 242 373C246.3 373.3 250.7 373.2 256 374C261.3 374.8 268.8 376.7 274 378C279.2 379.3 284.8 381.3 287 382" fill="none" stroke="#fff" stroke-opacity="0.055" stroke-width="3.5" stroke-linecap="round" stroke-linejoin="round" filter="url(#b2)"/>
<path d="M26 300C27.2 302.3 29.7 310.3 33 314C36.3 317.7 41.8 318.3 46 322C50.2 325.7 56 333.7 58 336" fill="none" stroke="#fff" stroke-opacity="0.035" stroke-width="9" stroke-linecap="round" stroke-linejoin="round" filter="url(#b3)"/>
<path d="M100 345C103 346.2 113.7 347.5 118 352C122.3 356.5 124.7 368.7 126 372" fill="none" stroke="#fff" stroke-opacity="0.025" stroke-width="3" stroke-linecap="round" stroke-linejoin="round" filter="url(#b2)"/>
<path d="M130 415C151.7 415.2 226.7 416 260 416C293.3 416 318.3 415.2 330 415" fill="none" stroke="#fff" stroke-opacity="0.02" stroke-width="5" stroke-linecap="round" stroke-linejoin="round" filter="url(#b3)"/>
</g>
<path d="M12.5 157C12.8 161.5 13.7 175.3 14.6 183.9C15.5 192.5 16.5 199.8 17.7 208.7C18.9 217.6 20.2 227.9 21.8 237.6C23.4 247.2 25.3 258 27 266.6C28.7 275.2 30.4 282.4 32.1 289.3C33.8 296.2 35.2 302.7 37.3 307.9C39.4 313.1 41.9 316.2 44.5 320.3C47.1 324.4 50.4 328.9 52.8 332.7C55.2 336.5 56.6 339.7 59 343C61.4 346.3 63.8 350 67.3 352.4C70.8 354.8 76.2 355.8 79.7 357.5C83.2 359.2 85.2 360.7 88 362.7C90.8 364.7 92.2 367 96.5 369.6C100.8 372.2 108.5 375.9 113.8 378.4C119.1 380.9 123.6 382.7 128.6 384.6C133.5 386.5 138.2 388.2 143.5 389.6C148.8 391 155.3 391.9 160.7 392.8C166 393.7 170.6 394.1 175.6 395.2C180.6 396.3 185.5 397.8 190.4 399.2C195.3 400.6 200.3 402.2 205.2 403.4C210.1 404.6 216.1 405.7 220 406.3C223.9 406.9 227.1 407.1 228.5 407.2" fill="none" stroke="#e2142e" stroke-opacity="1" stroke-width="2.7" stroke-linecap="butt" stroke-linejoin="round" stroke-dasharray="9 6.9"/>
</svg>
<svg x="808.2" y="634" width="584.8" height="442.2" viewBox="0.2 0 584.8 442.2" overflow="hidden">
<g filter="url(#jet)"><rect width="585" height="442" fill="#000"/>
<defs><linearGradient id="gvD" x1="0" y1="0" x2="0" y2="1"><stop offset="0" stop-color="#fff" stop-opacity="0.2"/><stop offset="0.07" stop-color="#fff" stop-opacity="0.4"/><stop offset="0.15" stop-color="#fff" stop-opacity="0.75"/><stop offset="0.22" stop-color="#fff" stop-opacity="1"/><stop offset="1" stop-color="#fff" stop-opacity="1"/></linearGradient><linearGradient id="ghD" x1="0" y1="0" x2="1" y2="0"><stop offset="0" stop-color="#fff" stop-opacity="1"/><stop offset="0.7" stop-color="#fff" stop-opacity="1"/><stop offset="0.735" stop-color="#fff" stop-opacity="0.55"/><stop offset="0.77" stop-color="#fff" stop-opacity="0.2"/><stop offset="0.8" stop-color="#fff" stop-opacity="0"/></linearGradient><mask id="mvD" maskUnits="userSpaceOnUse" x="0" y="0" width="585" height="442"><rect width="585" height="442" fill="url(#gvD)"/></mask><mask id="mhD" maskUnits="userSpaceOnUse" x="0" y="0" width="585" height="442"><rect width="585" height="442" fill="url(#ghD)"/></mask></defs>
<g mask="url(#mvD)"><g mask="url(#mhD)"><path d="M9 3C9.4 3.5 10.4 2.6 11.4 6.3C12.4 10 13.7 18.5 15 25C16.3 31.5 17.8 38.7 19.1 45.1C20.4 51.5 21.7 55 23 63.2C24.3 71.4 25.4 83.9 26.9 94.2C28.4 104.5 29.9 114.9 32 125.2C34.1 135.5 37.2 147.1 39.8 156.2C42.4 165.2 45.2 172.2 47.6 179.5C50 186.8 52 193.2 54 200.1C56 207 58.2 216.1 59.7 220.8C61.2 225.6 62 227.7 63 228.6C64 229.5 64.6 227.1 65.5 226C66.4 224.9 67.1 222 68.2 222C69.3 222 70.5 223.6 72 226C73.5 228.4 74.7 232 77.3 236.3C79.9 240.6 84.4 247.5 87.6 251.8C90.8 256.1 93.9 258.4 96.7 262.1C99.5 265.8 101.6 271.7 104.4 273.8C107.2 275.9 110.8 274.1 113.4 275C116 275.9 117.6 277.2 120.2 278.9C122.8 280.6 126 283.3 129 285.4C131.9 287.5 134.9 289.9 137.9 291.3C140.9 292.7 143.5 291.6 147 294C150.5 296.4 155.2 303.1 159 305.4C162.8 307.6 166.5 306.9 170 307.5C173.5 308.1 175.5 307.5 180.2 308.9C184.8 310.3 192.9 313.9 197.9 316C202.9 318.1 205.9 319.7 210 321.5C214.1 323.3 217.6 325.5 222.6 326.6C227.6 327.7 233.7 327.5 240.2 328.3C246.7 329.1 256.1 329.9 261.4 331.2C266.7 332.5 268.5 334.4 272 336C275.5 337.6 277.2 339.5 282.5 340.7C287.8 341.9 296.6 342.1 303.7 343.1C310.8 344.1 317.8 345.6 324.9 346.7C331.9 347.8 338.9 348 346 349.5C353.1 351 360.7 353.7 367.2 355.5C373.7 357.3 377.8 359.1 384.9 360.1C392 361.2 402.6 360.6 409.6 361.8C416.7 363 421.3 365.3 427.2 367.1C433.1 368.9 439.4 371.2 444.9 372.4C450.4 373.5 457.5 373.7 460 374" fill="none" stroke="#fff" stroke-opacity="0.2" stroke-width="8" stroke-linecap="butt" stroke-linejoin="round" filter="url(#b2_8)"/>
<path d="M19.1 45.1C19.8 48.1 21.7 55 23 63.2C24.3 71.4 25.4 83.9 26.9 94.2C28.4 104.5 29.9 114.9 32 125.2C34.1 135.5 37.2 147.1 39.8 156.2C42.4 165.2 45.2 172.2 47.6 179.5C50 186.8 52 193.2 54 200.1C56 207 58.2 216.1 59.7 220.8C61.2 225.6 62 227.7 63 228.6C64 229.5 64.6 227.1 65.5 226C66.4 224.9 67.1 222 68.2 222C69.3 222 70.5 223.6 72 226C73.5 228.4 74.7 232 77.3 236.3C79.9 240.6 84.4 247.5 87.6 251.8C90.8 256.1 93.9 258.4 96.7 262.1C99.5 265.8 101.6 271.7 104.4 273.8C107.2 275.9 110.8 274.1 113.4 275C116 275.9 117.6 277.2 120.2 278.9C122.8 280.6 126 283.3 129 285.4C131.9 287.5 134.9 289.9 137.9 291.3C140.9 292.7 143.5 291.6 147 294C150.5 296.4 155.2 303.1 159 305.4C162.8 307.6 166.5 306.9 170 307.5C173.5 308.1 175.5 307.5 180.2 308.9C184.8 310.3 192.9 313.9 197.9 316C202.9 318.1 205.9 319.7 210 321.5C214.1 323.3 217.6 325.5 222.6 326.6C227.6 327.7 233.7 327.5 240.2 328.3C246.7 329.1 256.1 329.9 261.4 331.2C266.7 332.5 268.5 334.4 272 336C275.5 337.6 277.2 339.5 282.5 340.7C287.8 341.9 296.6 342.1 303.7 343.1C310.8 344.1 317.8 345.6 324.9 346.7C331.9 347.8 338.9 348 346 349.5C353.1 351 360.7 353.7 367.2 355.5C373.7 357.3 377.8 359.1 384.9 360.1C392 361.2 405.5 361.5 409.6 361.8" fill="none" stroke="#fff" stroke-opacity="0.045" stroke-width="17" stroke-linecap="butt" stroke-linejoin="round" filter="url(#b6)"/>
<path d="M9 3C9.4 3.5 10.4 2.6 11.4 6.3C12.4 10 13.7 18.5 15 25C16.3 31.5 17.8 38.7 19.1 45.1C20.4 51.5 21.7 55 23 63.2C24.3 71.4 25.4 83.9 26.9 94.2C28.4 104.5 29.9 114.9 32 125.2C34.1 135.5 37.2 147.1 39.8 156.2C42.4 165.2 45.2 172.2 47.6 179.5C50 186.8 52 193.2 54 200.1C56 207 58.2 216.1 59.7 220.8C61.2 225.6 62 227.7 63 228.6C64 229.5 64.6 227.1 65.5 226C66.4 224.9 67.1 222 68.2 222C69.3 222 70.5 223.6 72 226C73.5 228.4 74.7 232 77.3 236.3C79.9 240.6 84.4 247.5 87.6 251.8C90.8 256.1 93.9 258.4 96.7 262.1C99.5 265.8 101.6 271.7 104.4 273.8C107.2 275.9 110.8 274.1 113.4 275C116 275.9 117.6 277.2 120.2 278.9C122.8 280.6 126 283.3 129 285.4C131.9 287.5 134.9 289.9 137.9 291.3C140.9 292.7 143.5 291.6 147 294C150.5 296.4 155.2 303.1 159 305.4C162.8 307.6 166.5 306.9 170 307.5C173.5 308.1 175.5 307.5 180.2 308.9C184.8 310.3 192.9 313.9 197.9 316C202.9 318.1 205.9 319.7 210 321.5C214.1 323.3 217.6 325.5 222.6 326.6C227.6 327.7 233.7 327.5 240.2 328.3C246.7 329.1 256.1 329.9 261.4 331.2C266.7 332.5 268.5 334.4 272 336C275.5 337.6 277.2 339.5 282.5 340.7C287.8 341.9 296.6 342.1 303.7 343.1C310.8 344.1 317.8 345.6 324.9 346.7C331.9 347.8 338.9 348 346 349.5C353.1 351 360.7 353.7 367.2 355.5C373.7 357.3 377.8 359.1 384.9 360.1C392 361.2 402.6 360.6 409.6 361.8C416.7 363 421.3 365.3 427.2 367.1C433.1 368.9 439.4 371.2 444.9 372.4C450.4 373.5 457.5 373.7 460 374" fill="none" stroke="#fff" stroke-opacity="0.25" stroke-width="2.0" stroke-linecap="butt" stroke-linejoin="round" filter="url(#b0_8)"/>
<path d="M9 3C9.4 3.5 10.4 2.6 11.4 6.3C12.4 10 13.7 18.5 15 25C16.3 31.5 17.8 38.7 19.1 45.1C20.4 51.5 21.7 55 23 63.2C24.3 71.4 25.4 83.9 26.9 94.2C28.4 104.5 29.9 114.9 32 125.2C34.1 135.5 37.2 147.1 39.8 156.2C42.4 165.2 45.2 172.2 47.6 179.5C50 186.8 52 193.2 54 200.1C56 207 58.2 216.1 59.7 220.8C61.2 225.6 62 227.7 63 228.6C64 229.5 64.6 227.1 65.5 226C66.4 224.9 67.1 222 68.2 222C69.3 222 70.5 223.6 72 226C73.5 228.4 74.7 232 77.3 236.3C79.9 240.6 84.4 247.5 87.6 251.8C90.8 256.1 93.9 258.4 96.7 262.1C99.5 265.8 101.6 271.7 104.4 273.8C107.2 275.9 110.8 274.1 113.4 275C116 275.9 117.6 277.2 120.2 278.9C122.8 280.6 126 283.3 129 285.4C131.9 287.5 134.9 289.9 137.9 291.3C140.9 292.7 143.5 291.6 147 294C150.5 296.4 155.2 303.1 159 305.4C162.8 307.6 166.5 306.9 170 307.5C173.5 308.1 175.5 307.5 180.2 308.9C184.8 310.3 192.9 313.9 197.9 316C202.9 318.1 205.9 319.7 210 321.5C214.1 323.3 217.6 325.5 222.6 326.6C227.6 327.7 233.7 327.5 240.2 328.3C246.7 329.1 256.1 329.9 261.4 331.2C266.7 332.5 268.5 334.4 272 336C275.5 337.6 277.2 339.5 282.5 340.7C287.8 341.9 296.6 342.1 303.7 343.1C310.8 344.1 317.8 345.6 324.9 346.7C331.9 347.8 338.9 348 346 349.5C353.1 351 360.7 353.7 367.2 355.5C373.7 357.3 377.8 359.1 384.9 360.1C392 361.2 402.6 360.6 409.6 361.8C416.7 363 421.3 365.3 427.2 367.1C433.1 368.9 439.4 371.2 444.9 372.4C450.4 373.5 457.5 373.7 460 374" fill="none" stroke="#fff" stroke-opacity="0.22" stroke-width="1.4" stroke-linecap="butt" stroke-linejoin="round" filter="url(#b0_5)"/>
<path d="M32 125.2C33.3 130.4 37.2 147.1 39.8 156.2C42.4 165.2 45.2 172.2 47.6 179.5C50 186.8 52.9 196.7 54 200.1" fill="none" stroke="#fff" stroke-opacity="0.22" stroke-width="1.3" stroke-linecap="butt" stroke-linejoin="round" filter="url(#b0_5)"/>
<path d="M68.2 222C68.8 222.7 70.5 223.6 72 226C73.5 228.4 74.7 232 77.3 236.3C79.9 240.6 84.4 247.5 87.6 251.8C90.8 256.1 93.9 258.4 96.7 262.1C99.5 265.8 101.6 271.7 104.4 273.8C107.2 275.9 110.8 274.1 113.4 275C116 275.9 117.6 277.2 120.2 278.9C122.8 280.6 126 283.3 129 285.4C131.9 287.5 134.9 289.9 137.9 291.3C140.9 292.7 143.5 291.6 147 294C150.5 296.4 157 303.5 159 305.4" fill="none" stroke="#fff" stroke-opacity="0.22" stroke-width="1.3" stroke-linecap="butt" stroke-linejoin="round" filter="url(#b0_5)"/></g></g>
<path d="M427 367C430 367.9 439.5 371.3 445 372.5C450.5 373.7 455.3 374.6 460 374C464.7 373.4 467.3 371 473 369C478.7 367 490.5 363.2 494 362" fill="none" stroke="#fff" stroke-opacity="0.035" stroke-width="4" stroke-linecap="round" stroke-linejoin="round" filter="url(#b2)"/>
<path d="M445 372C449.2 373 460.8 376.5 470 378C479.2 379.5 495 380.5 500 381" fill="none" stroke="#fff" stroke-opacity="0.02" stroke-width="3" stroke-linecap="round" stroke-linejoin="round" filter="url(#b2)"/>
</g>
<path d="M24.3 72.2C25.2 76.7 27.6 89.7 29.5 99.4C31.4 109.1 33.5 120.1 35.9 130.4C38.3 140.7 40.9 151.5 43.7 161.4C46.5 171.3 49.5 180.8 52.7 189.8C55.9 198.8 59.3 208.7 63 215.6C66.7 222.5 70.2 225.1 74.7 231.1C79.2 237.1 85.5 245.8 90.2 251.8C94.9 257.8 97.9 262.6 103.1 267.3C108.3 272 115.4 276.2 121.2 280.2C127 284.1 133.6 288.8 137.9 291C142.2 293.2 143.5 291.2 147 293.5C150.5 295.8 155.2 302.7 159 305C162.8 307.3 166.5 306.6 170 307.2C173.5 307.8 175.5 307.2 180.2 308.6C184.8 310 192.9 313.6 197.9 315.7C202.9 317.8 205.9 319.4 210 321.2C214.1 323 217.6 325.2 222.6 326.3C227.6 327.4 233.7 327.2 240.2 328C246.7 328.8 256.1 329.7 261.4 331C266.7 332.3 268.5 334.1 272 335.7C275.5 337.3 277.2 339.2 282.5 340.4C287.8 341.6 296.6 341.9 303.7 342.9C310.8 343.9 317.8 345.4 324.9 346.5C331.9 347.6 338.9 347.8 346 349.3C353.1 350.8 360.7 353.5 367.2 355.3C373.7 357.1 377.8 358.8 384.9 359.9C392 360.9 405.5 361.3 409.6 361.6" fill="none" stroke="#e2142e" stroke-opacity="1" stroke-width="2.7" stroke-linecap="butt" stroke-linejoin="round" stroke-dasharray="9 6.9"/>
</svg>
<path d="M93.3 506.2V63.1H677.6" fill="none" stroke="#00005c" stroke-width="1"/>
<path d="M676.7 62.6V506.2" fill="none" stroke="#9494ba" stroke-width="1.8"/>
<path d="M92.8 505.6H677.6" fill="none" stroke="#14143a" stroke-width="1.3"/>
<text x="92.8" y="541.2" text-anchor="middle" font-size="29.2">0</text>
<text x="287.7" y="541.2" text-anchor="middle" font-size="29.2">5</text>
<path d="M287.7 506.2v-5M287.7 62.6v5" stroke="#1c1c5e" stroke-width="1"/>
<text x="482.7" y="541.2" text-anchor="middle" font-size="29.2">10</text>
<path d="M482.7 506.2v-5M482.7 62.6v5" stroke="#1c1c5e" stroke-width="1"/>
<text x="677.6" y="541.2" text-anchor="middle" font-size="29.2">15</text>
<text x="84.3" y="516.5" text-anchor="end" font-size="29.2">0</text>
<text x="84.3" y="442.6" text-anchor="end" font-size="29.2">5</text>
<path d="M675.8 432.3h-5" stroke="#1c1c5e" stroke-width="1"/>
<text x="84.3" y="368.6" text-anchor="end" font-size="29.2">10</text>
<path d="M675.8 358.3h-5" stroke="#1c1c5e" stroke-width="1"/>
<text x="84.3" y="294.7" text-anchor="end" font-size="29.2">15</text>
<path d="M675.8 284.4h-5" stroke="#1c1c5e" stroke-width="1"/>
<text x="84.3" y="220.8" text-anchor="end" font-size="29.2">20</text>
<path d="M675.8 210.5h-5" stroke="#1c1c5e" stroke-width="1"/>
<text x="84.3" y="146.8" text-anchor="end" font-size="29.2">25</text>
<path d="M675.8 136.5h-5" stroke="#1c1c5e" stroke-width="1"/>
<text x="84.3" y="72.9" text-anchor="end" font-size="29.2">30</text>
<text x="385.2" y="52.5" text-anchor="middle" font-size="31.7">Warped first mode</text>
<text x="385.2" y="577.3" text-anchor="middle" font-size="31.7">Warped time (sec)</text>
<text transform="translate(42.3 286.9) rotate(-90)" text-anchor="middle" font-size="31.1">Warped frequency (Hz)</text>
<text class="ltr" x="15.8" y="23.8" font-size="30">A</text>
<path d="M808.4 506.2V63.1H1393" fill="none" stroke="#00005c" stroke-width="1"/>
<path d="M1392.1 62.6V506.2" fill="none" stroke="#9494ba" stroke-width="1.8"/>
<path d="M807.9 505.6H1393" fill="none" stroke="#14143a" stroke-width="1.3"/>
<text x="807.9" y="541.2" text-anchor="middle" font-size="29.2">0</text>
<text x="1002.9" y="541.2" text-anchor="middle" font-size="29.2">5</text>
<path d="M1002.9 506.2v-5M1002.9 62.6v5" stroke="#1c1c5e" stroke-width="1"/>
<text x="1198.0" y="541.2" text-anchor="middle" font-size="29.2">10</text>
<path d="M1198.0 506.2v-5M1198.0 62.6v5" stroke="#1c1c5e" stroke-width="1"/>
<text x="1393.0" y="541.2" text-anchor="middle" font-size="29.2">15</text>
<text x="799.4" y="516.5" text-anchor="end" font-size="29.2">0</text>
<text x="799.4" y="442.6" text-anchor="end" font-size="29.2">5</text>
<path d="M1391.2 432.3h-5" stroke="#1c1c5e" stroke-width="1"/>
<text x="799.4" y="368.6" text-anchor="end" font-size="29.2">10</text>
<path d="M1391.2 358.3h-5" stroke="#1c1c5e" stroke-width="1"/>
<text x="799.4" y="294.7" text-anchor="end" font-size="29.2">15</text>
<path d="M1391.2 284.4h-5" stroke="#1c1c5e" stroke-width="1"/>
<text x="799.4" y="220.8" text-anchor="end" font-size="29.2">20</text>
<path d="M1391.2 210.5h-5" stroke="#1c1c5e" stroke-width="1"/>
<text x="799.4" y="146.8" text-anchor="end" font-size="29.2">25</text>
<path d="M1391.2 136.5h-5" stroke="#1c1c5e" stroke-width="1"/>
<text x="799.4" y="72.9" text-anchor="end" font-size="29.2">30</text>
<text x="1100.5" y="52.5" text-anchor="middle" font-size="31.7">Warped second mode</text>
<text x="1100.5" y="577.3" text-anchor="middle" font-size="31.7">Warped time (sec)</text>
<text transform="translate(757.4 286.9) rotate(-90)" text-anchor="middle" font-size="31.1">Warped frequency (Hz)</text>
<text class="ltr" x="721.3" y="23.8" font-size="30">B</text>
<path d="M93.7 1076.2V634.5H677.6" fill="none" stroke="#00005c" stroke-width="1"/>
<path d="M676.7 634V1076.2" fill="none" stroke="#9494ba" stroke-width="1.8"/>
<path d="M93.2 1075.6H677.6" fill="none" stroke="#14143a" stroke-width="1.3"/>
<text x="93.2" y="1111.2" text-anchor="middle" font-size="29.2">0</text>
<text x="288.0" y="1111.2" text-anchor="middle" font-size="29.2">0.5</text>
<path d="M288.0 1076.2v-5M288.0 634v5" stroke="#1c1c5e" stroke-width="1"/>
<text x="482.8" y="1111.2" text-anchor="middle" font-size="29.2">1</text>
<path d="M482.8 1076.2v-5M482.8 634v5" stroke="#1c1c5e" stroke-width="1"/>
<text x="677.6" y="1111.2" text-anchor="middle" font-size="29.2">1.5</text>
<text x="84.7" y="1085.9" text-anchor="end" font-size="29.2">0</text>
<text x="84.7" y="975.4" text-anchor="end" font-size="29.2">50</text>
<path d="M675.8 965.7h-5" stroke="#1c1c5e" stroke-width="1"/>
<text x="84.7" y="864.8" text-anchor="end" font-size="29.2">100</text>
<path d="M675.8 855.1h-5" stroke="#1c1c5e" stroke-width="1"/>
<text x="84.7" y="754.2" text-anchor="end" font-size="29.2">150</text>
<path d="M675.8 744.5h-5" stroke="#1c1c5e" stroke-width="1"/>
<text x="84.7" y="643.7" text-anchor="end" font-size="29.2">200</text>
<text x="385.4" y="623.7" text-anchor="middle" font-size="31.7">Unwarped first mode</text>
<text x="385.4" y="1147.3" text-anchor="middle" font-size="31.7">Time (sec)</text>
<text transform="translate(30.8 855.1) rotate(-90)" text-anchor="middle" font-size="31.7">Frequency (Hz)</text>
<text class="ltr" x="15.8" y="600" font-size="30">C</text>
<path d="M808.7 1076.2V634.5H1393" fill="none" stroke="#00005c" stroke-width="1"/>
<path d="M1392.1 634V1076.2" fill="none" stroke="#9494ba" stroke-width="1.8"/>
<path d="M808.2 1075.6H1393" fill="none" stroke="#14143a" stroke-width="1.3"/>
<text x="808.2" y="1111.2" text-anchor="middle" font-size="29.2">0</text>
<text x="1003.1" y="1111.2" text-anchor="middle" font-size="29.2">0.5</text>
<path d="M1003.1 1076.2v-5M1003.1 634v5" stroke="#1c1c5e" stroke-width="1"/>
<text x="1198.1" y="1111.2" text-anchor="middle" font-size="29.2">1</text>
<path d="M1198.1 1076.2v-5M1198.1 634v5" stroke="#1c1c5e" stroke-width="1"/>
<text x="1393.0" y="1111.2" text-anchor="middle" font-size="29.2">1.5</text>
<text x="799.7" y="1085.9" text-anchor="end" font-size="29.2">0</text>
<text x="799.7" y="975.4" text-anchor="end" font-size="29.2">50</text>
<path d="M1391.2 965.7h-5" stroke="#1c1c5e" stroke-width="1"/>
<text x="799.7" y="864.8" text-anchor="end" font-size="29.2">100</text>
<path d="M1391.2 855.1h-5" stroke="#1c1c5e" stroke-width="1"/>
<text x="799.7" y="754.2" text-anchor="end" font-size="29.2">150</text>
<path d="M1391.2 744.5h-5" stroke="#1c1c5e" stroke-width="1"/>
<text x="799.7" y="643.7" text-anchor="end" font-size="29.2">200</text>
<text x="1100.6" y="623.7" text-anchor="middle" font-size="31.7">Unwarped second mode</text>
<text x="1100.6" y="1147.3" text-anchor="middle" font-size="31.7">Time (sec)</text>
<text transform="translate(745.8 855.1) rotate(-90)" text-anchor="middle" font-size="31.7">Frequency (Hz)</text>
<text class="ltr" x="721.3" y="600" font-size="30">D</text>
</svg>
</body></html>
